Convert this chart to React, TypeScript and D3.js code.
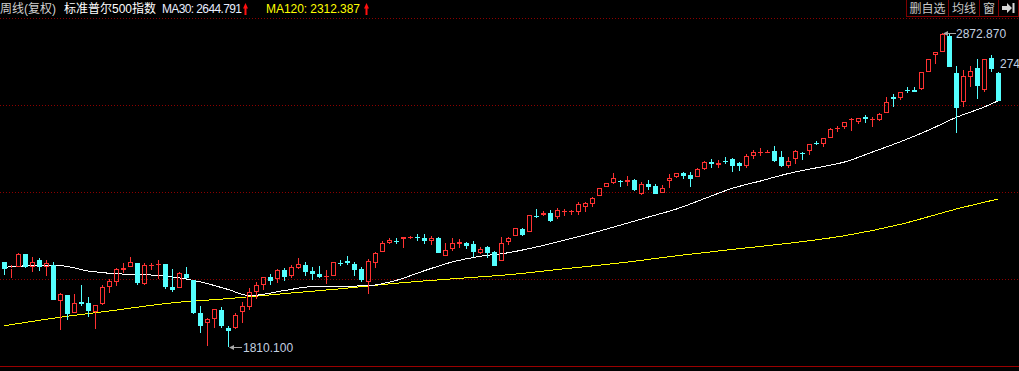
import React from "react";
import * as d3 from "d3";

// weekly S&P 500, 143 bars
const opens = [
  2097.8, 2074.1, 2080.9, 2125.9, 2080.9, 2105.6, 2082.9, 2088.7, 1967.8, 1987.1,
  1927.2, 1964.4, 1961.1, 1930.6, 1955.6, 2015.2, 2032.1, 2071.7, 2082.9, 2094.4,
  2023.3, 2088.7, 2091.0, 2092.0, 2013.2, 2011.8, 2058.2, 2037.9, 1925.2, 1891.3,
  1905.9, 1936.3, 1874.4, 1874.4, 1928.6, 1947.5, 1997.3, 2021.0, 2048.0, 2040.3,
  2071.7, 2052.4, 2079.5, 2088.7, 2068.3, 2058.2, 2051.4, 2052.4, 2096.9, 2103.2,
  2092.0, 2075.1, 2030.1, 2095.4, 2133.7, 2164.1, 2171.4, 2175.6, 2182.4, 2182.9,
  2181.1, 2170.9, 2181.1, 2120.1, 2142.8, 2158.7, 2164.1, 2159.7, 2130.3, 2150.6,
  2133.7, 2103.2, 2167.5, 2187.8, 2210.5, 2201.4, 2256.0, 2257.9, 2265.7, 2250.1,
  2272.4, 2272.4, 2269.1, 2286.0, 2295.1, 2323.2, 2353.7, 2365.2, 2373.5, 2370.6,
  2376.3, 2328.9, 2362.8, 2356.0, 2333.4, 2374.0, 2387.5, 2399.0, 2393.3, 2387.5,
  2412.6, 2438.3, 2426.1, 2442.2, 2446.4, 2434.9, 2424.8, 2457.6, 2470.1, 2472.1,
  2474.5, 2455.2, 2423.7, 2447.4, 2468.7, 2475.5, 2501.1, 2498.2, 2519.5, 2553.4,
  2556.7, 2581.8, 2574.3, 2588.9, 2581.8, 2579.4, 2602.1, 2658.6, 2652.9, 2681.1,
  2680.6, 2682.9, 2742.9, 2799.4, 2808.6, 2863.7, 2737.5, 2641.4, 2725.9, 2754.4,
  2680.6, 2788.2, 2737.5,
];
const highs = [
  2097.8, 2088.7, 2128.3, 2127.0, 2114.7, 2111.3, 2105.6, 2099.8, 1992.9, 1988.0,
  1990.5, 2021.0, 1980.0, 1953.0, 2021.0, 2040.3, 2077.5, 2094.4, 2116.7, 2096.4,
  2094.4, 2096.4, 2105.6, 2093.0, 2075.1, 2066.0, 2082.9, 2038.5, 1949.9, 1908.3,
  1939.5, 1947.5, 1882.2, 1927.2, 1964.4, 2009.8, 2031.1, 2048.0, 2057.2, 2075.1,
  2077.5, 2088.7, 2113.4, 2099.8, 2082.9, 2085.3, 2071.7, 2098.5, 2105.6, 2119.1,
  2099.8, 2080.9, 2109.0, 2131.6, 2169.9, 2179.0, 2179.0, 2183.0, 2187.8, 2193.6,
  2192.6, 2187.8, 2184.4, 2164.1, 2181.1, 2176.7, 2167.5, 2169.9, 2150.6, 2154.0,
  2134.5, 2184.4, 2184.4, 2213.5, 2214.9, 2257.0, 2278.2, 2271.4, 2274.8, 2280.6,
  2278.2, 2274.8, 2300.9, 2300.9, 2319.8, 2349.0, 2366.0, 2399.0, 2376.3, 2389.9,
  2379.7, 2368.6, 2376.3, 2362.8, 2359.4, 2395.6, 2399.5, 2404.4, 2402.4, 2418.0,
  2440.6, 2446.4, 2444.0, 2453.2, 2451.8, 2438.3, 2463.4, 2477.9, 2485.7, 2477.9,
  2491.4, 2474.5, 2455.2, 2477.9, 2472.1, 2497.8, 2508.3, 2518.0, 2553.4, 2559.1,
  2573.2, 2585.2, 2585.7, 2596.3, 2590.9, 2603.1, 2658.6, 2666.6, 2675.8, 2689.7,
  2689.7, 2741.5, 2785.5, 2809.2, 2872.87, 2869.5, 2762.2, 2748.7, 2762.2, 2784.9,
  2785.5, 2799.4, 2742.9,
];
const lows = [
  2055.8, 2045.7, 2080.9, 2079.0, 2066.0, 2069.4, 2052.4, 1970.2, 1868.7, 1902.5,
  1926.0, 1950.9, 1911.0, 1872.0, 1953.3, 1992.9, 2017.6, 2060.6, 2082.0, 2021.0,
  2022.5, 2071.7, 2041.3, 2007.4, 1996.6, 2009.8, 2041.3, 1922.8, 1859.5, 1814.5,
  1874.4, 1874.4, 1810.1, 1873.5, 1893.4, 1936.3, 1973.6, 2004.0, 2021.0, 2028.7,
  2034.5, 2043.6, 2075.1, 2051.4, 2037.9, 2043.6, 2023.3, 2051.5, 2086.3, 2088.7,
  2051.4, 2032.1, 1990.5, 2077.5, 2133.0, 2158.7, 2158.7, 2147.2, 2175.6, 2170.9,
  2159.7, 2156.3, 2130.0, 2119.5, 2137.1, 2145.2, 2142.8, 2114.7, 2125.9, 2111.3,
  2086.0, 2102.5, 2156.3, 2187.0, 2187.8, 2200.8, 2248.7, 2254.5, 2233.2, 2244.3,
  2254.5, 2257.9, 2257.9, 2269.1, 2286.0, 2322.5, 2353.0, 2361.8, 2353.7, 2357.0,
  2339.1, 2325.6, 2342.5, 2328.5, 2333.0, 2350.3, 2382.1, 2379.7, 2353.7, 2387.0,
  2410.2, 2416.0, 2418.0, 2430.5, 2404.4, 2407.8, 2416.0, 2447.4, 2457.6, 2466.7,
  2438.3, 2421.3, 2418.0, 2429.5, 2444.0, 2461.0, 2494.8, 2487.0, 2519.0, 2539.8,
  2548.0, 2543.3, 2565.9, 2568.2, 2556.7, 2577.7, 2601.5, 2624.4, 2647.1, 2671.8,
  2675.0, 2682.3, 2742.3, 2768.9, 2808.0, 2759.2, 2536.4, 2624.4, 2692.1, 2649.5,
  2675.2, 2742.9, 2644.0,
];
const closes = [
  2075.1, 2079.5, 2125.9, 2080.9, 2099.8, 2082.9, 2094.4, 1970.2, 1990.5, 1922.8,
  1959.0, 1956.7, 1934.0, 1952.3, 2013.2, 2034.5, 2074.1, 2077.5, 2098.8, 2026.7,
  2088.7, 2088.7, 2091.0, 2015.2, 2004.0, 2060.6, 2043.6, 1925.2, 1883.2, 1904.9,
  1938.7, 1882.2, 1865.3, 1918.4, 1949.9, 1998.6, 2019.9, 2047.0, 2034.5, 2071.7,
  2049.1, 2080.9, 2091.0, 2066.0, 2058.2, 2048.0, 2051.4, 2097.8, 2096.4, 2096.4,
  2071.7, 2037.9, 2102.2, 2128.3, 2162.1, 2173.3, 2170.9, 2182.4, 2182.4, 2182.4,
  2170.9, 2181.1, 2130.3, 2139.4, 2162.1, 2165.5, 2154.0, 2133.7, 2141.8, 2128.3,
  2086.3, 2162.1, 2179.0, 2212.9, 2190.2, 2256.5, 2255.5, 2265.7, 2237.6, 2274.8,
  2272.4, 2272.4, 2295.1, 2297.5, 2314.4, 2348.3, 2365.2, 2382.1, 2373.0, 2376.3,
  2342.5, 2362.8, 2353.7, 2328.9, 2350.3, 2384.1, 2399.0, 2389.9, 2379.7, 2413.6,
  2436.3, 2429.5, 2434.9, 2441.7, 2424.8, 2424.8, 2457.6, 2472.1, 2470.1, 2472.1,
  2440.6, 2423.7, 2440.6, 2474.5, 2463.4, 2497.2, 2500.6, 2517.5, 2549.0, 2553.4,
  2572.7, 2581.8, 2585.2, 2582.1, 2581.8, 2599.0, 2641.4, 2650.5, 2675.2, 2680.6,
  2675.2, 2740.9, 2784.9, 2808.6, 2869.5, 2759.8, 2619.0, 2729.4, 2745.3, 2694.5,
  2784.9, 2752.1, 2644.7,
];

// moving averages, read at these bar indexes
const ma30Idx = [0, 4, 8, 12, 16, 20, 24, 28, 32, 35, 40, 44, 48, 52, 56, 60, 64, 68, 72, 76,
  80, 84, 88, 92, 96, 100, 104, 108, 112, 116, 120, 124, 128, 132, 136, 140, 142];
const ma30 = [2080.9, 2086.3, 2086.0, 2068.3, 2058.9, 2056.2, 2048.4, 2031.5, 2005.4, 1984.7,
  2002.4, 2015.5, 2016.6, 2018.6, 2036.9, 2069.4, 2099.1, 2118.1, 2130.3, 2149.6,
  2172.6, 2197.0, 2223.7, 2251.1, 2278.2, 2313.4, 2348.3, 2373.0, 2398.3, 2417.6,
  2437.3, 2471.1, 2506.0, 2544.9, 2588.6, 2623.8, 2644.791];
const ma120Idx = [0, 8, 16, 24, 32, 40, 48, 56, 64, 72, 80, 88, 96, 104, 112, 120, 128, 136, 142];
const ma120 = [1883.2, 1912.0, 1936.3, 1960.7, 1974.9, 1991.9, 2008.2, 2027.1, 2041.9, 2055.8,
  2075.8, 2095.8, 2119.8, 2141.5, 2162.1, 2187.8, 2226.4, 2278.2, 2312.387];

const buttons = ["删自选", "均线", "窗"];

const UP = "#ff3232";
const DOWN = "#54ffff";
const GRID = "#8c0000";
const LABEL = "#c4d0e0";
const FONT = "'Liberation Sans', Arial, 'Noto Sans CJK SC', sans-serif";

function UpArrow({ x }: { x: number }) {
  // little red arrow next to the MA readouts
  return (
    <path
      d={`M${x},8.5 L${x + 2.5},3 L${x + 5},8.5 L${x + 3.5},8.5 L${x + 3.5},15 L${x + 1.5},15 L${x + 1.5},8.5 Z`}
      fill="#ff1010"
    />
  );
}

export default function App() {
  const W = 1019;
  const H = 371;
  const n = closes.length;

  const x = d3.scaleLinear().domain([0, n - 1]).range([4.5, 4.5 + 7 * (n - 1)]);
  const y = d3.scaleLinear().domain([1810.1, 2872.87]).range([347.3, 33.3]);
  const gridY = d3.scaleLinear().domain([0, 4]).range([18.5, 366.5]);

  const line = d3
    .line<[number, number]>()
    .x((d) => x(d[0]))
    .y((d) => y(d[1]))
    .curve(d3.curveMonotoneX);

  const ma30Path = line(ma30Idx.map((i, k) => [i, ma30[k]] as [number, number])) || "";
  const ma120Path = line(ma120Idx.map((i, k) => [i, ma120[k]] as [number, number])) || "";

  const hiIdx = d3.maxIndex(highs);
  const loIdx = d3.minIndex(lows);

  const candles = d3.range(n).map((i) => {
    const cx = x(i);
    const up = closes[i] >= opens[i];
    const col = up ? UP : DOWN;
    const top = Math.round(y(Math.max(opens[i], closes[i])));
    const bot = Math.round(y(Math.min(opens[i], closes[i])));
    const hy = Math.round(y(highs[i]));
    const ly = Math.round(y(lows[i]));
    if (bot - top < 1) {
      return (
        <g key={i}>
          <line x1={cx} x2={cx} y1={hy} y2={ly} stroke={col} />
          <rect x={cx - 2.5} y={top} width={5} height={1} fill={col} />
        </g>
      );
    }
    if (up) {
      return (
        <g key={i}>
          {hy < top && <line x1={cx} x2={cx} y1={hy} y2={top} stroke={col} />}
          {ly > bot && <line x1={cx} x2={cx} y1={bot} y2={ly} stroke={col} />}
          <rect x={cx - 2} y={top + 0.5} width={4} height={Math.max(bot - top - 1, 0)} fill="none" stroke={col} />
        </g>
      );
    }
    return (
      <g key={i}>
        <line x1={cx} x2={cx} y1={hy} y2={ly} stroke={col} />
        <rect x={cx - 2.5} y={top} width={5} height={bot - top} fill={col} />
      </g>
    );
  });

  const hx = x(hiIdx) + 0.5;
  const hy = Math.round(y(highs[hiIdx])) + 0.5;
  const lx = x(loIdx) + 0.5;
  const ly = Math.round(y(lows[loIdx])) + 0.5;

  const btnX = [906.5, 948.5, 979.5, 998.5, 1018.5];

  return (
    <div style={{ position: "fixed", left: 0, top: 0, width: W, height: H, background: "#000" }}>
      <svg width={W} height={H} style={{ display: "block", fontFamily: FONT, fontSize: 12 }}>
        <rect width={W} height={H} fill="#000" />

        {/* grid */}
        {[0, 1, 2, 3].map((k) => (
          <line key={k} x1={0} x2={W} y1={gridY(k)} y2={gridY(k)} stroke={GRID} strokeDasharray="1 2" />
        ))}
        <line x1={0} x2={W} y1={gridY(4)} y2={gridY(4)} stroke="#9a0000" />

        {/* header */}
        <text x={0} y={13} fill="#d0d0d0">周线(复权)</text>
        <text x={64} y={13} fill="#ffffff">标准普尔500指数</text>
        <text x={162} y={13} fill="#e8eeff" textLength={80} lengthAdjust="spacing">
          {`MA30: ${ma30[ma30.length - 1].toFixed(3)}`}
        </text>
        <UpArrow x={243} />
        <text x={266} y={13} fill="#ffff00" textLength={94} lengthAdjust="spacing">
          {`MA120: ${ma120[ma120.length - 1].toFixed(3)}`}
        </text>
        <UpArrow x={364} />

        {buttons.map((b, k) => (
          <g key={b}>
            <rect x={btnX[k]} y={-0.5} width={btnX[k + 1] - btnX[k]} height={17} fill="#000" stroke="#800000" />
            <text x={(btnX[k] + btnX[k + 1]) / 2} y={13} textAnchor="middle" fill="#c8c8c8">{b}</text>
          </g>
        ))}
        <rect x={btnX[3]} y={-0.5} width={btnX[4] - btnX[3]} height={17} fill="#000" stroke="#800000" />
        <path d="M1002,6 L1007,6 L1007,3 L1012,8 L1007,13 L1007,10 L1002,10 Z" fill="#d8d8d8" />
        <rect x={1012.5} y={3} width={2} height={10} fill="#d8d8d8" />

        {/* moving averages, pixel-crisp like the terminal */}
        <path d={ma120Path} fill="none" stroke="#ffff00" strokeWidth={1} shapeRendering="crispEdges" />
        <path d={ma30Path} fill="none" stroke="#ffffff" strokeWidth={1} shapeRendering="crispEdges" />

        {candles}

        {/* high / low markers */}
        <line x1={hx + 2} x2={hx + 13} y1={hy} y2={hy} stroke="#a8a8a8" />
        <path d={`M${hx},${hy} L${hx + 5},${hy - 2.5} L${hx + 5},${hy + 2.5} Z`} fill="#a8a8a8" />
        <text x={hx + 13} y={hy + 4.5} fill={LABEL}>{highs[hiIdx].toFixed(3)}</text>

        <line x1={lx + 2} x2={lx + 13} y1={ly} y2={ly} stroke="#a8a8a8" />
        <path d={`M${lx},${ly} L${lx + 5},${ly - 2.5} L${lx + 5},${ly + 2.5} Z`} fill="#a8a8a8" />
        <text x={lx + 14} y={ly + 4.5} fill={LABEL}>{lows[loIdx].toFixed(3)}</text>

        {/* right-edge price label, only its first digits fit in the frame */}
        <text x={1000} y={68} fill={LABEL}>274</text>
      </svg>
    </div>
  );
}
